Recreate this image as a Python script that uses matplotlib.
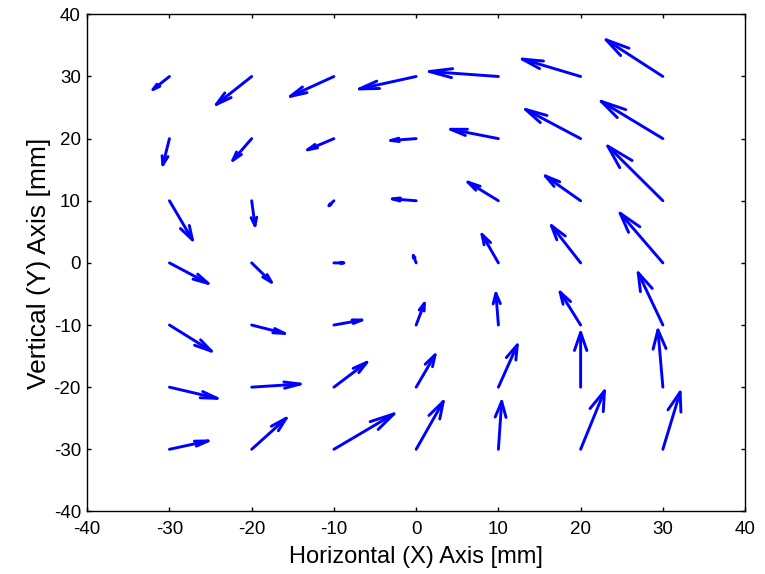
import numpy as np
import matplotlib.pyplot as plt

plt.rcParams['font.family'] = ['Liberation Sans', 'DejaVu Sans']
plt.rcParams['axes.unicode_minus'] = False

# grid of measurement points [mm]
x_points = [-30, -20, -10, 0, 10, 20, 30]
y_points = [30, 20, 10, 0, -10, -20, -30]

# displacement components, one row per y value (top row is y = 30)
u_rows = [
    [-2.0, -4.3, -5.3, -6.9, -8.4, -7.1, -6.9],
    [-0.8, -2.3, -3.2, -3.1, -5.8, -6.7, -7.5],
    [2.8, 0.4, -0.6, -2.9, -3.7, -4.3, -6.7],
    [4.7, 2.4, 1.2, -0.35, -2.0, -3.55, -5.2],
    [5.1, 4.0, 3.4, 1.0, -0.3, -2.5, -3.0],
    [5.8, 5.9, 4.0, 2.3, 2.3, 0.0, -0.6],
    [4.7, 4.2, 7.3, 3.3, 0.4, 2.9, 2.1],
]
v_rows = [
    [-2.1, -4.5, -3.2, -2.0, 0.8, 2.8, 5.9],
    [-4.2, -3.5, -1.8, -0.3, 1.5, 4.7, 6.0],
    [-6.3, -4.0, -0.8, 0.3, 3.0, 4.0, 8.8],
    [-3.3, -3.1, 0.0, 1.2, 4.6, 6.0, 8.0],
    [-4.2, -1.35, 0.8, 3.5, 5.1, 5.3, 8.4],
    [-1.8, 0.5, 4.0, 5.2, 6.8, 8.8, 9.2],
    [1.35, 5.0, 5.7, 7.7, 7.7, 9.4, 9.2],
]

X, Y = np.meshgrid(x_points, y_points)
U = np.array(u_rows)
V = np.array(v_rows)
x, y, u, v = X.ravel(), Y.ravel(), U.ravel(), V.ravel()

# open line arrowheads, sized relative to each vector (classic quiver style)
alpha = 0.33
beta = 0.26
eps = 1e-12

fig = plt.figure(figsize=(7.65, 5.74), dpi=100)
ax = fig.add_axes([0.114, 0.109, 0.860, 0.866])

nan = np.full_like(x, np.nan, dtype=float)
shaft_x = np.column_stack([x, x + u, nan]).ravel()
shaft_y = np.column_stack([y, y + v, nan]).ravel()
head_x = np.column_stack([x + u - alpha * (u + beta * (v + eps)), x + u,
                          x + u - alpha * (u - beta * (v + eps)), nan]).ravel()
head_y = np.column_stack([y + v - alpha * (v - beta * (u + eps)), y + v,
                          y + v - alpha * (v + beta * (u + eps)), nan]).ravel()

ax.plot(shaft_x, shaft_y, color=(0, 0, 1), lw=2.1, solid_capstyle='round')
ax.plot(head_x, head_y, color=(0, 0, 1), lw=2.1, solid_capstyle='round',
        solid_joinstyle='round')

ax.set_xlim(-40, 40)
ax.set_ylim(-40, 40)
ax.set_xticks(np.arange(-40, 41, 10))
ax.set_yticks(np.arange(-40, 41, 10))
ax.tick_params(direction='in', length=3, width=1, top=True, right=True,
               labelsize=13.5)
ax.tick_params(axis='x', pad=7)
ax.tick_params(axis='y', pad=4.5)
for side in ax.spines.values():
    side.set_linewidth(1)

ax.set_xlabel('Horizontal (X) Axis [mm]', fontsize=17, labelpad=6)
ax.set_ylabel('Vertical (Y) Axis [mm]', fontsize=19, labelpad=2)

fig.savefig('out.png', dpi=100)
